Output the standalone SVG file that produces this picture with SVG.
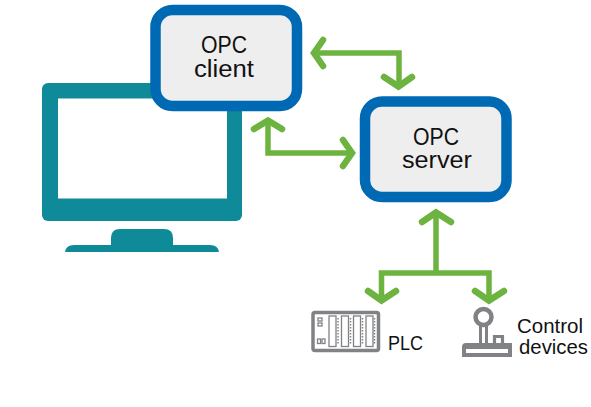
<svg xmlns="http://www.w3.org/2000/svg" width="591" height="407" viewBox="0 0 591 407">
<style>
.box{fill:#eeeeee;stroke:#0069b4;stroke-width:10.5}
.lbl{font-family:"Liberation Sans",Arial,sans-serif;font-size:23px;fill:#111;text-anchor:middle}
.sm{font-family:"Liberation Sans",Arial,sans-serif;font-size:20.5px;fill:#111}
.c{fill:none;stroke:#6db33f;stroke-width:5.5}
.h{fill:none;stroke:#6db33f;stroke-width:6.5;stroke-linecap:round;stroke-linejoin:miter;stroke-miterlimit:10}
.g{fill:#808285}
.dots{fill:none;stroke:#808285;stroke-width:1.500;stroke-dasharray:1.500 1.500}
</style>
<rect width="591" height="407" fill="#fff"/>
<g id="monitor">
<rect x="42" y="83" width="200" height="138" rx="6" fill="#0f8a98"/>
<rect x="58" y="98.500" width="169" height="100" fill="#fff"/>
<path d="M111 245V238Q111 229 120 229H164Q173 229 173 238V245H210Q218 245 219 252H65Q66 245 74 245Z" fill="#0f8a98"/>
</g>
<g id="opc-client">
<rect class="box" x="155.500" y="10" width="141.500" height="96" rx="17"/>
<text class="lbl" x="224" y="53" textLength="46" lengthAdjust="spacingAndGlyphs">OPC</text>
<text class="lbl" x="224" y="77" textLength="60" lengthAdjust="spacingAndGlyphs">client</text>
</g>
<g id="opc-server">
<rect class="box" x="365" y="101.500" width="141.500" height="95.500" rx="17"/>
<text class="lbl" x="436" y="144.500" textLength="46" lengthAdjust="spacingAndGlyphs">OPC</text>
<text class="lbl" x="437" y="168" textLength="70" lengthAdjust="spacingAndGlyphs">server</text>
</g>
<g id="connectors">
<path class="c" d="M316 53H399V85"/>
<path class="h" d="M323 40L314 53L323 66M384 77L398.500 86.500L412 77"/>
<path class="c" d="M268 123V153H351"/>
<path class="h" d="M254 129L268 120.500L282 129M343 140L352 153L343 166"/>
<path class="c" d="M436 215V272"/>
<path class="h" d="M422 222L436 212.500L451 222"/>
<path class="c" d="M381.500 298V273H489V298"/>
<path class="h" d="M368 291L381.500 300.500L396 291M475 291L489 300.500L504 291"/>
</g>
<g id="plc">
<rect x="313" y="312.500" width="65.500" height="38" rx="2" fill="#fff" stroke="#808285" stroke-width="3.500"/>
<g fill="#fff" stroke="#808285" stroke-width="1.300">
<rect x="329" y="316" width="7" height="30.500"/>
<rect x="341.500" y="316" width="7" height="30.500"/>
<rect x="353.500" y="316" width="7" height="30.500"/>
<rect x="366" y="316" width="7" height="30.500"/>
<rect x="318" y="318" width="4" height="3"/><rect x="318" y="323" width="4" height="3"/>
<rect x="317.500" y="339" width="3" height="4.500"/><rect x="322" y="339" width="3" height="4.500"/>
</g>
<path class="dots" d="M338 318V344M350.500 318V344M362.500 318V344M374.500 318V344"/>
</g>
<text class="sm" x="388" y="349.500" textLength="35" lengthAdjust="spacingAndGlyphs">PLC</text>
<g id="control-devices">
<circle cx="483.500" cy="317" r="8" fill="#fff" stroke="#808285" stroke-width="4.500"/>
<path d="M480.500 325V344M486.500 325V344" fill="none" stroke="#808285" stroke-width="3"/>
<path d="M494.500 344V336.500H502.500V344" fill="#fff" stroke="#808285" stroke-width="3.200"/>
<path class="g" d="M466 343H512V357H462V347Q462 343 466 343ZM466 349V353H508V349Z" fill-rule="evenodd"/>
</g>
<text class="sm" x="517" y="333" textLength="66" lengthAdjust="spacingAndGlyphs">Control</text>
<text class="sm" x="519" y="354" textLength="69" lengthAdjust="spacingAndGlyphs">devices</text>
</svg>
